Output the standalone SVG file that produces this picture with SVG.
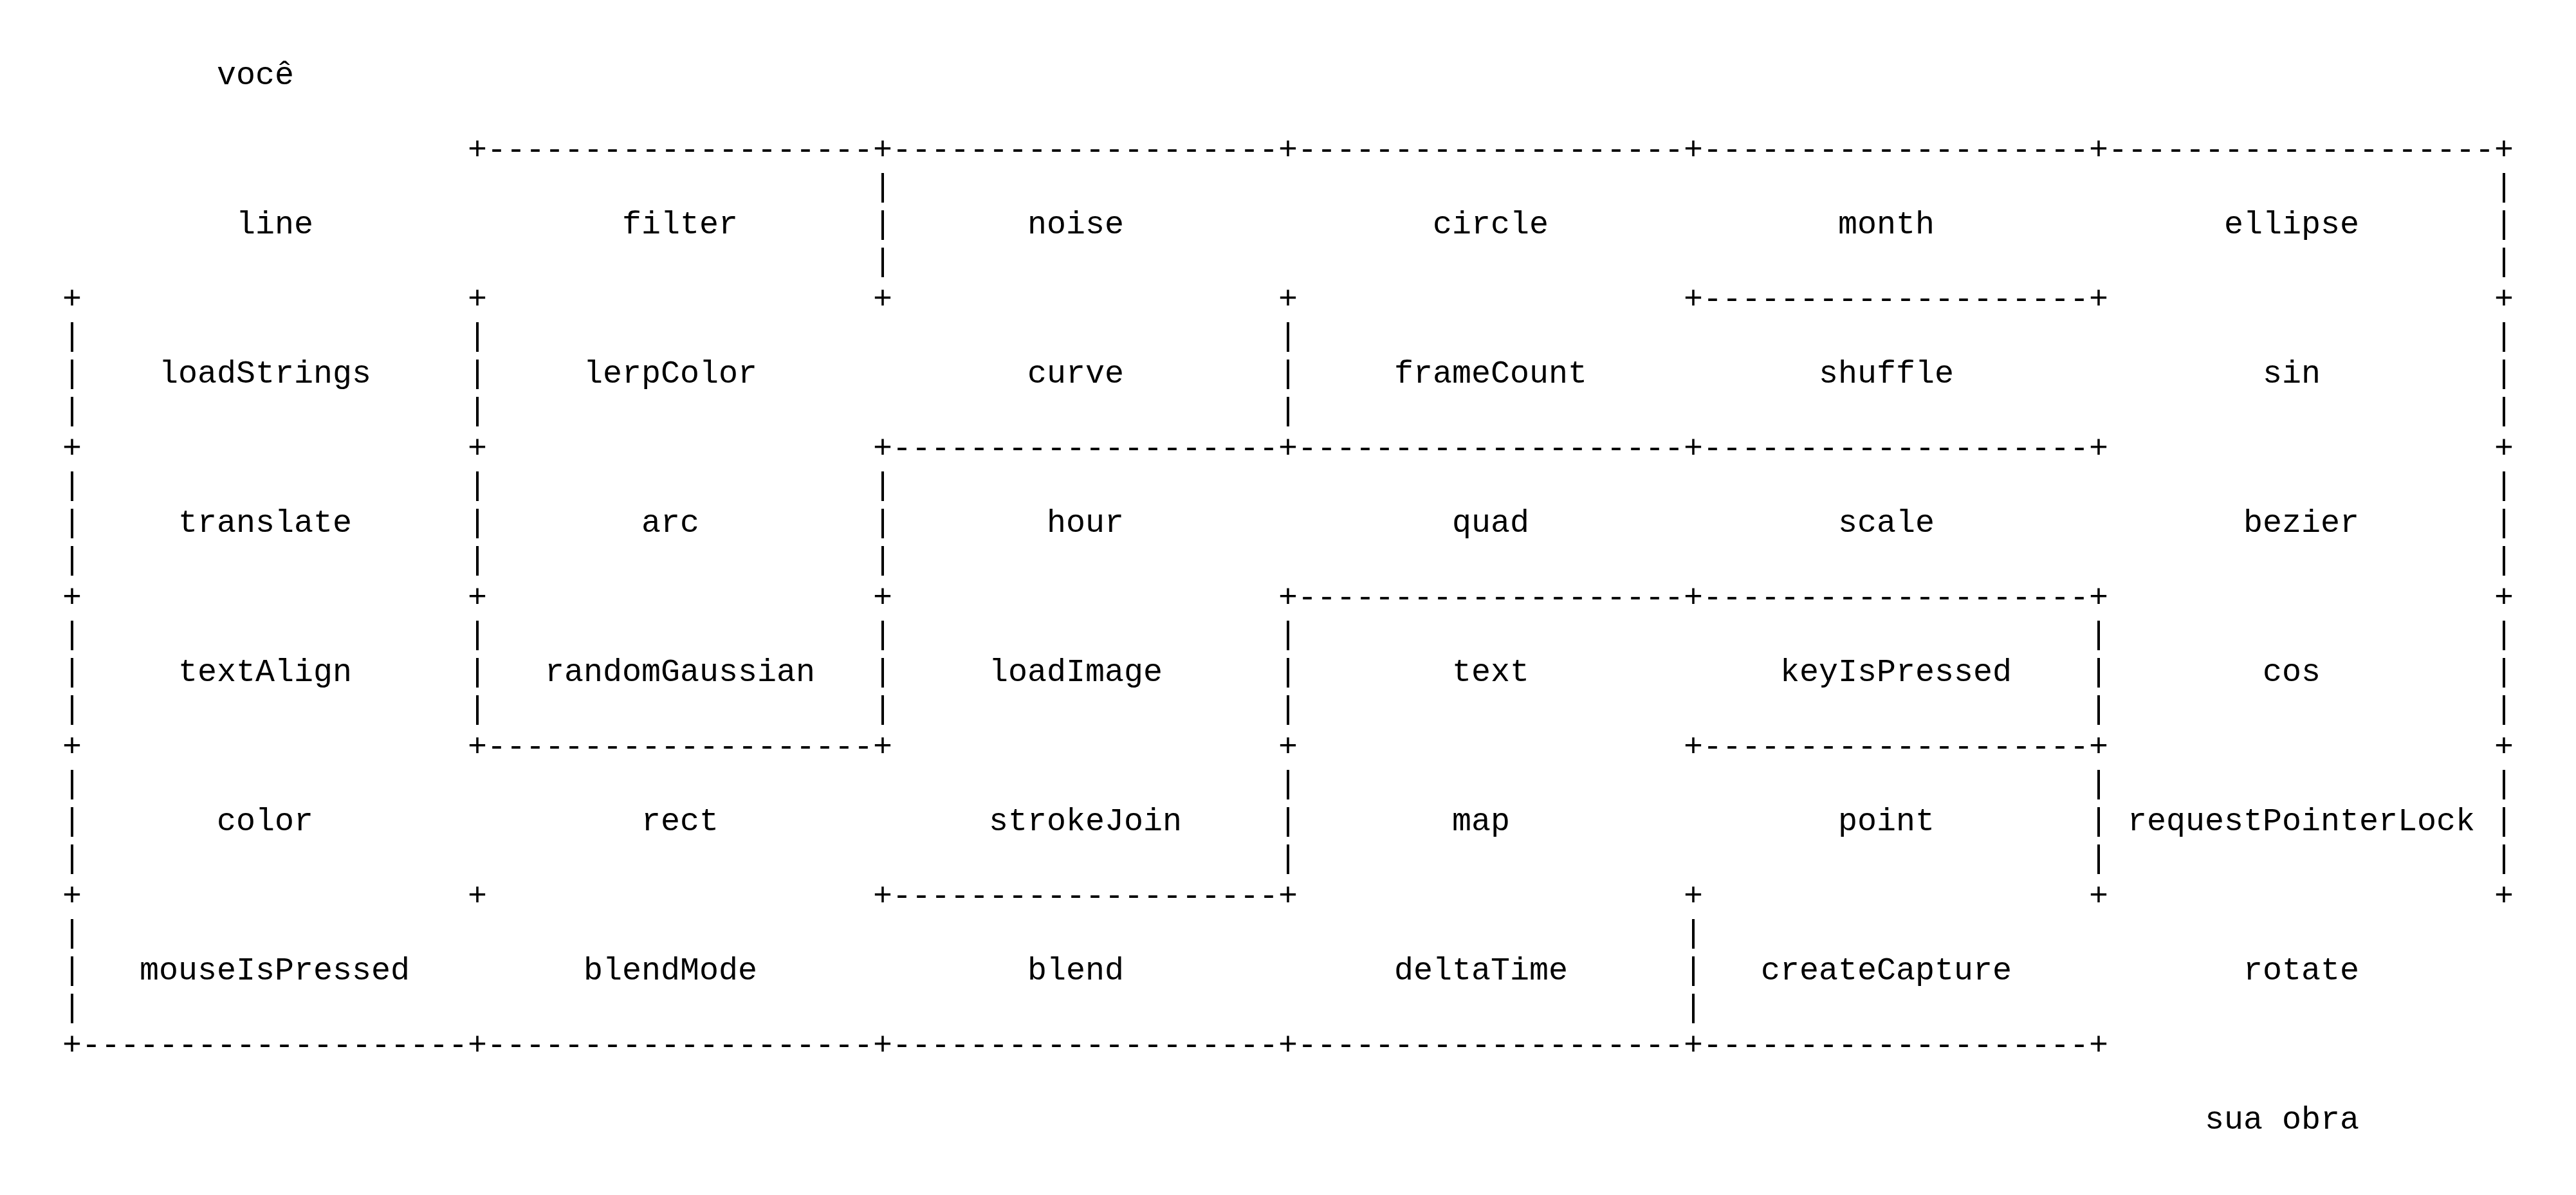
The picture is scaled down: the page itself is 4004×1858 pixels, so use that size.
<svg xmlns="http://www.w3.org/2000/svg" width="4004" height="1858" viewBox="0 0 4004 1858">
  <style>
    text { font-family: "Liberation Mono", "Courier New", monospace; font-size: 50px; fill: #000; white-space: pre; }
  </style>
  <rect width="4004" height="1858" fill="#fff"/>

  <!-- Maze walls drawn as monospace characters: 30px per column, 58px per line.
       Wall columns: 97, 727, 1357, 1987, 2617, 3247, 3877 -->
  <g id="walls">
    <!-- top border (entrance left open) -->
    <g id="h0">
      <text x="727" y="247">+</text><text x="757" y="247">--------------------</text>
      <text x="1357" y="247">+</text><text x="1387" y="247">--------------------</text>
      <text x="1987" y="247">+</text><text x="2017" y="247">--------------------</text>
      <text x="2617" y="247">+</text><text x="2647" y="247">--------------------</text>
      <text x="3247" y="247">+</text><text x="3277" y="247">--------------------</text>
      <text x="3877" y="247">+</text>
    </g>
    <g id="v0">
      <text x="1357" y="305">|</text><text x="3877" y="305">|</text>
      <text x="1357" y="363">|</text><text x="3877" y="363">|</text>
      <text x="1357" y="421">|</text><text x="3877" y="421">|</text>
    </g>

    <g id="h1">
      <text x="97" y="479">+</text><text x="727" y="479">+</text><text x="1357" y="479">+</text>
      <text x="1987" y="479">+</text><text x="2617" y="479">+</text><text x="2647" y="479">--------------------</text>
      <text x="3247" y="479">+</text><text x="3877" y="479">+</text>
    </g>
    <g id="v1">
      <text x="97" y="537">|</text><text x="727" y="537">|</text><text x="1987" y="537">|</text><text x="3877" y="537">|</text>
      <text x="97" y="595">|</text><text x="727" y="595">|</text><text x="1987" y="595">|</text><text x="3877" y="595">|</text>
      <text x="97" y="653">|</text><text x="727" y="653">|</text><text x="1987" y="653">|</text><text x="3877" y="653">|</text>
    </g>

    <g id="h2">
      <text x="97" y="711">+</text><text x="727" y="711">+</text>
      <text x="1357" y="711">+</text><text x="1387" y="711">--------------------</text>
      <text x="1987" y="711">+</text><text x="2017" y="711">--------------------</text>
      <text x="2617" y="711">+</text><text x="2647" y="711">--------------------</text>
      <text x="3247" y="711">+</text><text x="3877" y="711">+</text>
    </g>
    <g id="v2">
      <text x="97" y="769">|</text><text x="727" y="769">|</text><text x="1357" y="769">|</text><text x="3877" y="769">|</text>
      <text x="97" y="827">|</text><text x="727" y="827">|</text><text x="1357" y="827">|</text><text x="3877" y="827">|</text>
      <text x="97" y="885">|</text><text x="727" y="885">|</text><text x="1357" y="885">|</text><text x="3877" y="885">|</text>
    </g>

    <g id="h3">
      <text x="97" y="943">+</text><text x="727" y="943">+</text><text x="1357" y="943">+</text>
      <text x="1987" y="943">+</text><text x="2017" y="943">--------------------</text>
      <text x="2617" y="943">+</text><text x="2647" y="943">--------------------</text>
      <text x="3247" y="943">+</text><text x="3877" y="943">+</text>
    </g>
    <g id="v3">
      <text x="97" y="1001">|</text><text x="727" y="1001">|</text><text x="1357" y="1001">|</text><text x="1987" y="1001">|</text><text x="3247" y="1001">|</text><text x="3877" y="1001">|</text>
      <text x="97" y="1059">|</text><text x="727" y="1059">|</text><text x="1357" y="1059">|</text><text x="1987" y="1059">|</text><text x="3247" y="1059">|</text><text x="3877" y="1059">|</text>
      <text x="97" y="1117">|</text><text x="727" y="1117">|</text><text x="1357" y="1117">|</text><text x="1987" y="1117">|</text><text x="3247" y="1117">|</text><text x="3877" y="1117">|</text>
    </g>

    <g id="h4">
      <text x="97" y="1175">+</text>
      <text x="727" y="1175">+</text><text x="757" y="1175">--------------------</text>
      <text x="1357" y="1175">+</text><text x="1987" y="1175">+</text>
      <text x="2617" y="1175">+</text><text x="2647" y="1175">--------------------</text>
      <text x="3247" y="1175">+</text><text x="3877" y="1175">+</text>
    </g>
    <g id="v4">
      <text x="97" y="1233">|</text><text x="1987" y="1233">|</text><text x="3247" y="1233">|</text><text x="3877" y="1233">|</text>
      <text x="97" y="1291">|</text><text x="1987" y="1291">|</text><text x="3247" y="1291">|</text><text x="3877" y="1291">|</text>
      <text x="97" y="1349">|</text><text x="1987" y="1349">|</text><text x="3247" y="1349">|</text><text x="3877" y="1349">|</text>
    </g>

    <g id="h5">
      <text x="97" y="1407">+</text><text x="727" y="1407">+</text>
      <text x="1357" y="1407">+</text><text x="1387" y="1407">--------------------</text>
      <text x="1987" y="1407">+</text><text x="2617" y="1407">+</text>
      <text x="3247" y="1407">+</text><text x="3877" y="1407">+</text>
    </g>
    <!-- bottom row sides (exit on the right left open) -->
    <g id="v5">
      <text x="97" y="1465">|</text><text x="2617" y="1465">|</text>
      <text x="97" y="1523">|</text><text x="2617" y="1523">|</text>
      <text x="97" y="1581">|</text><text x="2617" y="1581">|</text>
    </g>

    <!-- bottom border -->
    <g id="h6">
      <text x="97" y="1639">+</text><text x="127" y="1639">--------------------</text>
      <text x="727" y="1639">+</text><text x="757" y="1639">--------------------</text>
      <text x="1357" y="1639">+</text><text x="1387" y="1639">--------------------</text>
      <text x="1987" y="1639">+</text><text x="2017" y="1639">--------------------</text>
      <text x="2617" y="1639">+</text><text x="2647" y="1639">--------------------</text>
      <text x="3247" y="1639">+</text>
    </g>
  </g>

  <!-- start and finish labels -->
  <g id="start"><text x="337" y="131">você</text></g>
  <g id="finish"><text x="3427" y="1755">sua obra</text></g>

  <!-- row 0 -->
  <g id="cell-line"><text x="367" y="363">line</text></g>
  <g id="cell-filter"><text x="967" y="363">filter</text></g>
  <g id="cell-noise"><text x="1597" y="363">noise</text></g>
  <g id="cell-circle"><text x="2227" y="363">circle</text></g>
  <g id="cell-month"><text x="2857" y="363">month</text></g>
  <g id="cell-ellipse"><text x="3457" y="363">ellipse</text></g>

  <!-- row 1 -->
  <g id="cell-loadStrings"><text x="247" y="595">loadStrings</text></g>
  <g id="cell-lerpColor"><text x="907" y="595">lerpColor</text></g>
  <g id="cell-curve"><text x="1597" y="595">curve</text></g>
  <g id="cell-frameCount"><text x="2167" y="595">frameCount</text></g>
  <g id="cell-shuffle"><text x="2827" y="595">shuffle</text></g>
  <g id="cell-sin"><text x="3517" y="595">sin</text></g>

  <!-- row 2 -->
  <g id="cell-translate"><text x="277" y="827">translate</text></g>
  <g id="cell-arc"><text x="997" y="827">arc</text></g>
  <g id="cell-hour"><text x="1627" y="827">hour</text></g>
  <g id="cell-quad"><text x="2257" y="827">quad</text></g>
  <g id="cell-scale"><text x="2857" y="827">scale</text></g>
  <g id="cell-bezier"><text x="3487" y="827">bezier</text></g>

  <!-- row 3 -->
  <g id="cell-textAlign"><text x="277" y="1059">textAlign</text></g>
  <g id="cell-randomGaussian"><text x="847" y="1059">randomGaussian</text></g>
  <g id="cell-loadImage"><text x="1537" y="1059">loadImage</text></g>
  <g id="cell-text"><text x="2257" y="1059">text</text></g>
  <g id="cell-keyIsPressed"><text x="2767" y="1059">keyIsPressed</text></g>
  <g id="cell-cos"><text x="3517" y="1059">cos</text></g>

  <!-- row 4 -->
  <g id="cell-color"><text x="337" y="1291">color</text></g>
  <g id="cell-rect"><text x="997" y="1291">rect</text></g>
  <g id="cell-strokeJoin"><text x="1537" y="1291">strokeJoin</text></g>
  <g id="cell-map"><text x="2257" y="1291">map</text></g>
  <g id="cell-point"><text x="2857" y="1291">point</text></g>
  <g id="cell-requestPointerLock"><text x="3307" y="1291">requestPointerLock</text></g>

  <!-- row 5 -->
  <g id="cell-mouseIsPressed"><text x="217" y="1523">mouseIsPressed</text></g>
  <g id="cell-blendMode"><text x="907" y="1523">blendMode</text></g>
  <g id="cell-blend"><text x="1597" y="1523">blend</text></g>
  <g id="cell-deltaTime"><text x="2167" y="1523">deltaTime</text></g>
  <g id="cell-createCapture"><text x="2737" y="1523">createCapture</text></g>
  <g id="cell-rotate"><text x="3487" y="1523">rotate</text></g>
</svg>
